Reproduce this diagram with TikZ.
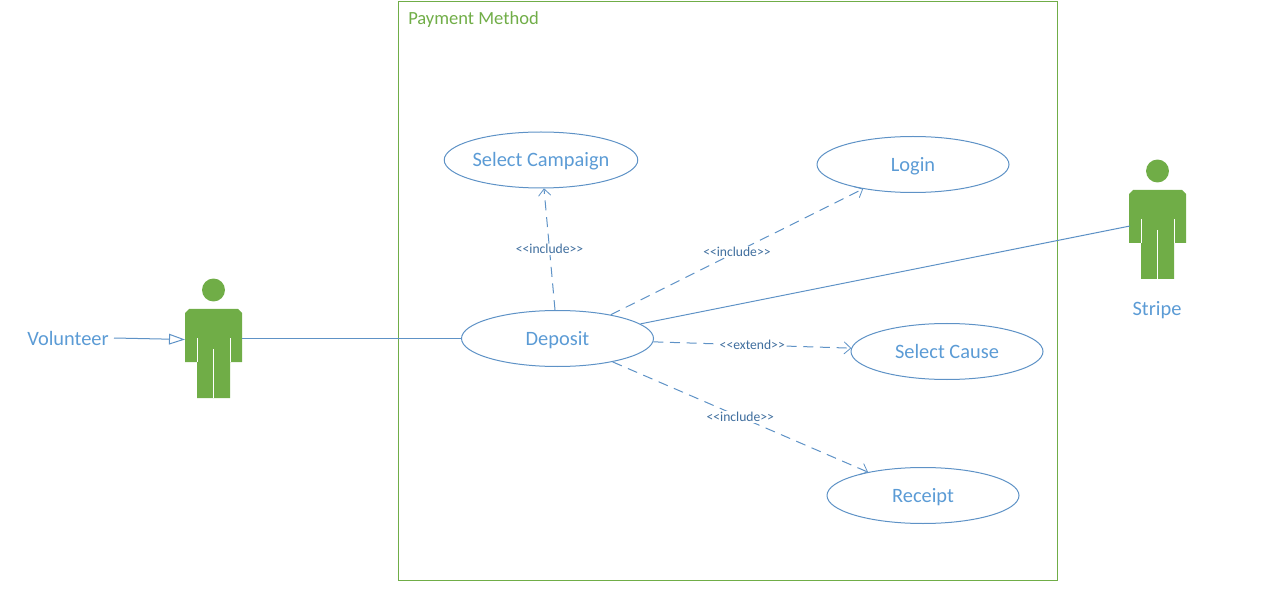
\documentclass[tikz,border=0pt]{standalone}
\usepackage{fontspec}
\setmainfont{Carlito}
\usetikzlibrary{shapes.geometric,arrows.meta}
\definecolor{ublue}{HTML}{5B9BD5}
\definecolor{uline}{HTML}{5E92C6}
\definecolor{ugreen}{HTML}{70AD47}
\definecolor{ulabel}{HTML}{3F6E9E}
\tikzset{
  x=0.75pt,y=-0.75pt,
  usecase/.style={ellipse,draw=uline,line width=0.75pt,minimum width=144pt,minimum height=42pt,inner sep=0pt,text=ublue,text height=10pt,text depth=0pt,font=\fontsize{15.3}{17}\selectfont},
  assoc/.style={draw=uline,line width=0.75pt},
  dep/.style={assoc,dash pattern=on 7.5pt off 5pt,-{Straight Barb[length=5pt,width=9pt,line width=0.6pt,round]}},
  stereo/.style={fill=white,inner sep=0.6pt,text=ulabel,font=\fontsize{10.2}{11}\selectfont},
  actorlabel/.style={text=ublue,inner sep=0pt,font=\fontsize{15.3}{17}\selectfont},
  actorbox/.style={rectangle,minimum width=42.75pt,minimum height=66.75pt,inner sep=0pt},
  slit/.style={draw=white,line width=0.75pt}
}
\newcommand{\stickfigure}[3]{%
  \begin{scope}[shift={(#1,#2)}]
    \fill[ugreen] (0,-19) circle[radius=8.6pt];
    \fill[ugreen] (-24.5,0) -- (24.5,0) -- (28.5,4) -- (28.5,53) -- (16.5,53) -- (16.5,89) -- (-16.5,89) -- (-16.5,53) -- (-28.5,53) -- (-28.5,4) -- cycle;
    \draw[slit] (-16.5,29) -- (-16.5,53);
    \draw[slit] (16.5,29) -- (16.5,53);
    \draw[slit] (0,40) -- (0,89);
    \node[actorbox] (#3) at (0,44.5) {};
  \end{scope}}
\begin{document}
\begin{tikzpicture}
\useasboundingbox (0,0) rectangle (1278,595);
\draw[draw=ugreen,line width=0.75pt] (398.5,1.5) rectangle (1057.5,580.5);
\node[anchor=west,inner sep=0pt,text=ugreen,font=\fontsize{13.9}{15}\selectfont] (title) at (408,20) {Payment Method};

\stickfigure{213.5}{309}{vol}
\stickfigure{1157.5}{190}{stripe}

\node[actorlabel] (vollabel) at (68,338) {Volunteer};
\node[actorlabel] (stripelabel) at (1157,310) {Stripe};

\node[usecase] (campaign) at (541,160) {Select Campaign};
\node[usecase] (login) at (913,164.5) {Login};
\node[usecase] (deposit) at (557.5,338.5) {Deposit};
\node[usecase] (cause) at (947,351.5) {Select Cause};
\node[usecase] (receipt) at (923,495.5) {Receipt};

\coordinate (volin) at (185,339.5);
\coordinate (stripehand) at (1130,226);

\draw[assoc,-{Triangle[open,length=12pt,width=8pt,fill=white]}] (114,338) -- (volin);
\draw[assoc] (deposit.west) -- (deposit.west -| vol.east);
\draw[assoc] (deposit.10.5) -- (stripehand);

\draw[dep] (deposit.95) -- node[stereo] {<{}<include>{}>} (campaign.276);
\draw[dep] (deposit.24.5) -- node[stereo] {<{}<include>{}>} (login.206.6);
\draw[dep] (deposit.-2.4) -- node[stereo] {<{}<extend>{}>} (cause.178.4);
\draw[dep] (deposit.-23.8) -- node[stereo] {<{}<include>{}>} (receipt.157.7);
\end{tikzpicture}
\end{document}
